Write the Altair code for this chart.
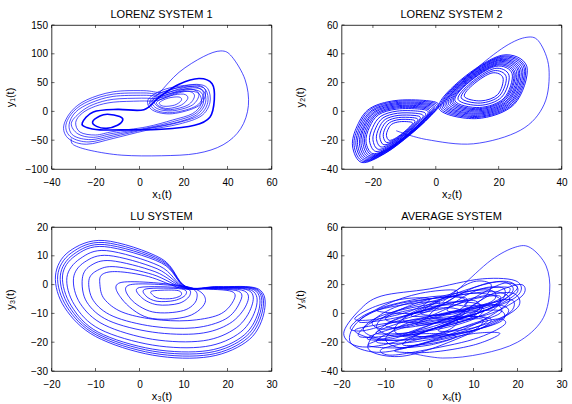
import altair as alt
import pandas as pd

BLUE = "#0000ff"
FONT = "Liberation Sans"
W, H = 220, 144

# ---------------- LORENZ SYSTEM 1 ----------------
# wide loops that run around both wings (x, y) in drawing order
LZ1_WIDE_LOOPS = [
    [(-34.5, -27), (-31, 0), (-24, 20), (-12, 34), (2, 36), (10, 33), (18, 42), (26, 47), (31, 40), (32, 15),
     (28, -8), (18, -22), (3, -33), (-12, -47), (-24, -57), (-32, -48)],
    [(-33.5, -25), (-30, 0), (-23, 18), (-12, 30), (2, 32), (10, 30), (18, 39), (25, 44), (30, 38), (31, 15),
     (27, -7), (17, -20), (3, -31), (-12, -44), (-23, -53), (-31, -45)],
    [(-32, -23), (-29, -1), (-22, 15), (-12, 26), (2, 28), (10, 27), (18, 36), (24, 41), (29, 36), (30, 15),
     (26, -6), (17, -19), (3, -30), (-12, -41), (-22, -49), (-30, -42)],
    [(-31, -21), (-27, -2), (-21, 12), (-12, 21), (1, 23), (9, 23), (17, 33), (23, 38), (28, 33), (29, 14),
     (25, -5), (16, -17), (3, -29), (-12, -38), (-21, -45), (-28, -39)],
    [(-29, -19), (-26, -3), (-20, 9), (-12, 16), (0, 18), (8, 19), (16, 30), (22, 35), (27, 31), (28, 13),
     (24, -4), (15, -15), (3, -27), (-12, -35), (-20, -41), (-27, -36)],
]
# nested loops of the right wing
LZ1_RIGHT_LOOPS = [
    [(4, 21), (12, 39), (25, 46), (30, 36), (27, 10), (15, -4), (6, 2)],
    [(5, 20), (13, 37), (24, 43), (29, 33), (26, 10), (15, -2), (7, 3)],
    [(6, 19), (14, 34), (23, 39), (27, 30), (24, 11), (15, 1), (8, 5)],
    [(7, 18), (14, 31), (22, 35), (25, 27), (22, 11), (14, 3), (9, 7)],
    [(8, 17), (14, 27), (20, 30), (22, 23), (19, 11), (13, 5), (9, 9)],
    [(9, 15), (13, 23), (18, 25), (19, 19), (16, 11), (11, 9)],
]
# heavily retraced orbit and its small left loop
LZ1_CORE = [
    [(-26, -20), (-21, -1), (-10, 3.5), (2, 3), (9, 25), (18, 47), (27, 57), (33, 48), (34, 20),
     (32, -10), (25, -24), (10, -31), (-5, -32), (-18, -32), (-24, -28)],
    [(-21.3, -17.8), (-18, -8), (-14.5, -5), (-9, -9), (-7.6, -15), (-10, -24), (-15, -29.4), (-19.5, -26)],
]
# single wide excursion
LZ1_EXCURSION = [
    [(-31, -47), (-30, -58), (-22, -68), (-8, -76), (10, -77), (26, -73), (38, -58), (46, -30),
     (49.5, 10), (48, 55), (42, 95), (37, 105), (29, 95), (18, 68), (9, 32), (4, 12)],
]
LZ1_X_TICKS = [-40, -20, 0, 20, 40, 60]
LZ1_Y_TICKS = [-100, -50, 0, 50, 100, 150]

# ---------------- LORENZ SYSTEM 2 ----------------
LZ2_LEFT_LOOPS = [
    [(-23.5, -35.5), (-26.5, -24), (-25, -10), (-21, 2), (-13, 7.5), (-3, 7.5), (1, 4.5), (-2, -4), (-8, -16), (-16, -29)],
    [(-23.1, -34.7), (-26.0, -23.6), (-24.5, -10.1), (-20.7, 1.5), (-12.9, 6.8), (-3.3, 6.8), (0.6, 3.9), (-2.3, -4.3), (-8.1, -15.9), (-15.8, -28.5)],
    [(-22.6, -34.0), (-25.4, -23.3), (-24.0, -10.2), (-20.3, 0.9), (-12.9, 6.0), (-3.6, 6.0), (0.2, 3.2), (-2.6, -4.7), (-8.2, -15.8), (-15.7, -27.9)],
    [(-22.2, -33.2), (-24.9, -22.9), (-23.5, -10.4), (-20.0, 0.4), (-12.8, 5.3), (-3.8, 5.3), (-0.3, 2.6), (-2.9, -5.0), (-8.3, -15.7), (-15.5, -27.4)],
    [(-21.8, -32.4), (-24.3, -22.5), (-23.0, -10.5), (-19.6, -0.2), (-12.7, 4.6), (-4.1, 4.6), (-0.7, 2.0), (-3.3, -5.3), (-8.4, -15.7), (-15.3, -26.8)],
    [(-21.3, -31.7), (-23.8, -22.2), (-22.6, -10.6), (-19.3, -0.7), (-12.7, 3.8), (-4.4, 3.8), (-1.1, 1.4), (-3.6, -5.7), (-8.5, -15.6), (-15.1, -26.3)],
    [(-20.9, -30.9), (-23.2, -21.8), (-22.1, -10.7), (-18.9, -1.3), (-12.6, 3.1), (-4.7, 3.1), (-1.5, 0.7), (-3.9, -6.0), (-8.6, -15.5), (-15.0, -25.8)],
    [(-20.4, -30.1), (-22.7, -21.4), (-21.6, -10.9), (-18.6, -1.8), (-12.5, 2.4), (-5.0, 2.4), (-1.9, 0.1), (-4.2, -6.3), (-8.7, -15.4), (-14.8, -25.2)],
    [(-20.0, -29.3), (-22.2, -21.1), (-21.1, -11.0), (-18.2, -2.3), (-12.4, 1.6), (-5.2, 1.6), (-2.4, -0.5), (-4.5, -6.7), (-8.8, -15.3), (-14.6, -24.7)],
    [(-19.1, -27.8), (-21.1, -20.3), (-20.1, -11.2), (-17.5, -3.4), (-12.3, 0.2), (-5.8, 0.2), (-3.2, -1.8), (-5.2, -7.3), (-9.1, -15.1), (-14.3, -23.6)],
    [(-18.3, -26.3), (-20.0, -19.6), (-19.1, -11.5), (-16.8, -4.5), (-12.2, -1.3), (-6.4, -1.3), (-4.0, -3.1), (-5.8, -8.0), (-9.3, -15.0), (-13.9, -22.5)],
    [(-17.4, -24.7), (-18.9, -18.9), (-18.1, -11.7), (-16.1, -5.6), (-12.0, -2.8), (-6.9, -2.8), (-4.9, -4.3), (-6.4, -8.7), (-9.5, -14.8), (-13.6, -21.4)],
    [(-16.5, -23.2), (-17.8, -18.1), (-17.2, -12.0), (-15.4, -6.7), (-11.9, -4.3), (-7.5, -4.3), (-5.7, -5.6), (-7.0, -9.3), (-9.7, -14.6), (-13.2, -20.3)],
    [(-15.6, -21.6), (-16.7, -17.4), (-16.2, -12.2), (-14.7, -7.8), (-11.7, -5.7), (-8.0, -5.7), (-6.6, -6.8), (-7.7, -10.0), (-9.9, -14.4), (-12.9, -19.2)],
    [(-14.8, -20.1), (-15.7, -16.7), (-15.2, -12.5), (-14.0, -8.9), (-11.6, -7.2), (-8.6, -7.2), (-7.4, -8.1), (-8.3, -10.7), (-10.1, -14.3), (-12.5, -18.2)],
]
LZ2_RIGHT_LOOPS = [
    [(1, 2), (8, 22), (21, 39), (29, 31), (25, 5), (13, -5)],
    [(1.5, 2.5), (8.3, 21.8), (20.8, 38.2), (28.5, 30.5), (24.7, 5.4), (13.1, -4.2)],
    [(2.0, 3.1), (8.5, 21.7), (20.6, 37.5), (28.1, 30.0), (24.3, 5.8), (13.2, -3.5)],
    [(2.5, 3.6), (8.8, 21.5), (20.4, 36.7), (27.6, 29.5), (24.0, 6.3), (13.3, -2.7)],
    [(3.0, 4.1), (9.1, 21.3), (20.2, 35.9), (27.1, 29.0), (23.7, 6.7), (13.4, -1.9)],
    [(3.5, 4.6), (9.3, 21.1), (20.0, 35.2), (26.6, 28.6), (23.3, 7.1), (13.4, -1.2)],
    [(4.0, 5.2), (9.6, 21.0), (19.9, 34.4), (26.2, 28.1), (23.0, 7.5), (13.5, -0.4)],
    [(4.6, 5.7), (9.8, 20.8), (19.7, 33.6), (25.7, 27.6), (22.7, 7.9), (13.6, 0.4)],
    [(5.1, 6.2), (10.1, 20.6), (19.5, 32.8), (25.2, 27.1), (22.3, 8.4), (13.7, 1.2)],
    [(5.6, 6.7), (10.4, 20.4), (19.3, 32.1), (24.8, 26.6), (22.0, 8.8), (13.8, 1.9)],
    [(6.1, 7.3), (10.6, 20.3), (19.1, 31.3), (24.3, 26.1), (21.7, 9.2), (13.9, 2.7)],
    [(7.1, 8.3), (11.2, 19.9), (18.7, 29.8), (23.3, 25.1), (21.0, 10.0), (14.1, 4.2)],
    [(8.1, 9.4), (11.7, 19.6), (18.3, 28.2), (22.4, 24.1), (20.3, 10.9), (14.2, 5.8)],
    [(9.1, 10.4), (12.2, 19.2), (17.9, 26.7), (21.4, 23.2), (19.7, 11.7), (14.4, 7.3)],
]
LZ2_EXCURSION = [
    [(-12.6, -13.4), (-3, -19.5), (12, -22.5), (27, -13), (34.5, 5), (36, 30), (33, 48),
     (29, 51.5), (22, 45), (12, 28), (4, 10), (1, 3)],
]
LZ2_X_TICKS = [-20, 0, 20, 40]
LZ2_Y_TICKS = [-40, -20, 0, 20, 40, 60]

# ---------------- LU SYSTEM ----------------
LU_OUTER_LOOPS = [
    [(10.5, -0.6), (5, 9), (-8, 15.3), (-16, 11.5), (-19.1, 3), (-17, -8), (-10, -18), (3, -24.5), (16, -25), (25, -19), (28.4, -9), (27, -1.5), (18, -0.7)],
    [(10.5, -0.7), (5, 8.5), (-8, 14.6), (-15.5, 11), (-18.6, 3), (-16.5, -7.8), (-9.8, -17.5), (3, -23.8), (16, -24.3), (24.6, -18.5), (28, -8.8), (26.7, -1.6), (18, -0.8)],
    [(10.5, -0.8), (5, 8), (-8, 13.9), (-15, 10.5), (-18, 3), (-16, -7.6), (-9.6, -17), (3, -23.1), (15.8, -23.6), (24.2, -18), (27.6, -8.6), (26.4, -1.7), (18, -0.9)],
    [(10.5, -0.9), (5, 7.5), (-8, 13.2), (-14.6, 10), (-17.5, 3), (-15.5, -7.4), (-9.4, -16.5), (3, -22.4), (15.6, -22.9), (23.8, -17.5), (27.2, -8.4), (26, -1.8), (18, -1)],
    [(10.4, -1), (4.5, 6.5), (-7.5, 11.8), (-13.5, 9), (-16.5, 2.5), (-14.8, -7), (-9, -15.5), (3, -21), (15, -21.5), (23, -16.5), (26.5, -8), (25.5, -2), (18, -1.1)],
    [(10.3, -1), (4, 5.5), (-7, 10.1), (-12.5, 7.8), (-15, 2.2), (-13.5, -6.5), (-8, -14), (3, -19), (14.5, -19.5), (22, -15), (25.5, -7.5), (24.8, -2), (17, -1.2)],
    [(10.2, -1.1), (3.5, 4.5), (-6.5, 8.3), (-11.2, 6.5), (-13, 2), (-12, -6), (-7, -12.5), (3, -16.5), (13.5, -17), (20.5, -13.5), (24.3, -7), (23.8, -2.2), (16, -1.3)],
    [(10, -1.2), (3, 3.5), (-5.5, 6.2), (-9.5, 5), (-11.5, 1.5), (-10.5, -5.5), (-6, -11), (3, -14.5), (12.5, -15), (19.5, -12), (22.7, -6.5), (22.5, -2.3), (15, -1.4)],
    [(9.5, -1.3), (2, 2.8), (-5, 4.5), (-8.5, 3.5), (-9, 0), (-8, -5), (-4, -9.5), (3, -12), (11, -12.5), (18, -10.5), (21.2, -6), (21, -2.4), (14, -1.5)],
]
LU_INNER_LOOPS = [
    [(-4, 0.8), (11, -0.8), (15, -5.5), (11, -11), (2, -11.5), (-4, -5)],
    [(-2, 0), (11, -1), (13, -5), (10, -9), (3, -9.5), (-2, -5)],
    [(0, -1), (10, -1.2), (11.5, -3.5), (9, -6.5), (4, -7), (0.5, -4.5)],
    [(1.5, -1.5), (9.5, -1.5), (10.5, -3.5), (8, -5.5), (4, -5.8), (1.5, -4)],
    [(3, -2.2), (8.5, -2), (9.5, -3.6), (7.5, -4.8), (4.5, -4.8), (3, -3.6)],
]
LU_X_TICKS = [-20, -10, 0, 10, 20, 30]
LU_Y_TICKS = [-30, -20, -10, 0, 10, 20]

# ---------------- AVERAGE SYSTEM ----------------
AVG_LOOPS = [
    [(-19.5, -14), (-16, 2), (-11, 12), (0, 17), (12, 24), (20, 22), (19, 10), (5, -6), (-8, -20), (-16, -23)],
    [(-18, -20), (-16, -5), (-8, 6), (5, 12), (15, 15), (18, 8), (10, -8), (-3, -22), (-12, -27)],
    [(-14, -24), (-10, -8), (0, 3), (12, 12), (19, 14), (20, 4), (12, -10), (0, -25), (-8, -30)],
    [(-12, -10), (-9, 0), (0, 8), (10, 14), (16, 10), (13, 0), (2, -10), (-7, -16)],
    [(-15, -12), (-12, -3), (-4, 4), (6, 8), (12, 5), (8, -5), (-3, -13), (-10, -18)],
    [(-10, -18), (-6, -8), (3, 0), (14, 6), (18, 2), (14, -8), (2, -18), (-6, -24)],
    [(-6, -5), (-1, 5), (8, 16), (16, 22), (19, 16), (14, 4), (4, -6)],
    [(0, -2), (5, 10), (12, 20), (18, 22), (20, 15), (15, 5), (7, -3)],
    [(-8, -12), (-5, -2), (3, 6), (10, 9), (11, 2), (4, -7), (-4, -15)],
    [(-13, -6), (-8, 4), (0, 10), (8, 11), (7, 3), (-2, -6), (-10, -11)],
    [(-17, -12), (-12, -8), (-2, -4), (8, -2), (14, -4), (10, -12), (-3, -18), (-12, -18)],
    [(-11, -25), (-5, -20), (5, -12), (15, -4), (17, -8), (10, -18), (-2, -26), (-9, -29)],
    [(-4, -14), (2, -6), (9, 2), (15, 6), (16, 0), (9, -8), (1, -16)],
    [(4, 2), (8, 12), (13, 18), (17, 17), (16, 8), (10, 2)],
    [(-14, -18), (-10, -12), (-2, -6), (6, -4), (4, -12), (-5, -18)],
    [(-6, -22), (-2, -14), (6, -6), (12, -4), (10, -12), (2, -20)],
    [(-12, 2), (-6, 8), (2, 12), (8, 10), (4, 4), (-4, 0)],
    [(2, -12), (8, -2), (15, 8), (19, 9), (18, 0), (10, -10)],
    [(-2, 0), (4, 12), (10, 22), (14, 20), (12, 10), (6, 0)],
    [(-16, -16), (-13, -6), (-5, 2), (5, 6), (9, 2), (2, -8), (-8, -15)],
    [(-12, -20), (-8, -12), (0, -6), (10, -2), (13, -6), (6, -14), (-4, -20)],
    [(-18, -10), (-14, 0), (-6, 6), (2, 8), (0, 2), (-8, -6), (-15, -12)],
    [(-10, -4), (-4, 6), (6, 14), (14, 16), (14, 8), (4, 0), (-4, -6)],
    [(-6, -16), (0, -8), (8, 0), (16, 2), (16, -6), (6, -14)],
    [(-14, -22), (-8, -16), (0, -14), (6, -16), (0, -22), (-8, -24)],
    [(-4, -2), (2, 8), (10, 16), (18, 18), (16, 10), (8, 2)],
    [(6, -4), (10, 6), (16, 16), (21, 20), (21, 12), (14, 0)],
    [(-16, -6), (-10, 6), (-2, 14), (6, 16), (4, 8), (-6, -2)],
    [(-8, -26), (0, -20), (10, -14), (16, -14), (10, -22), (0, -27)],
    [(-12, -14), (-6, -6), (4, 0), (12, 4), (10, -4), (0, -12)],
    [(-3, -8), (3, 2), (10, 10), (16, 12), (14, 4), (6, -4)],
    [(8, 6), (12, 14), (17, 21), (20, 18), (17, 10), (12, 6)],
    [(-17, -4), (-13, 4), (-6, 10), (0, 10), (-4, 2), (-12, -4)],
    [(-10, -8), (-4, 0), (4, 4), (8, 0), (2, -6), (-6, -10)],
]
AVG_EXCURSION = [
    [(-5, -27), (3, -31), (12, -28), (20, -20), (25.5, -5), (27.3, 15), (26.5, 33), (23, 45.5),
     (19.5, 46), (14, 37), (7, 18), (3, 8)],
]
AVG_X_TICKS = [-20, -10, 0, 10, 20, 30]
AVG_Y_TICKS = [-40, -20, 0, 20, 40, 60]


def to_frame(paths):
    rows = []
    for k, pts in enumerate(paths):
        for i, (x, y) in enumerate(pts):
            rows.append({"g": k, "i": i, "x": x, "y": y})
    return pd.DataFrame(rows)


def panel(title, xdom, ydom, xticks, yticks, xtitle, ytitle, closed, thick=None, open_paths=None, width=0.7):
    xs = alt.Scale(domain=xdom, nice=False, zero=False)
    ys = alt.Scale(domain=ydom, nice=False, zero=False)
    xaxis = alt.Axis(values=xticks, title=xtitle, titleX=W / 2, titleY=25, titleBaseline="middle",
                     titleAlign="center", labelPadding=13, labelBaseline="middle")
    yaxis = alt.Axis(values=yticks, title=ytitle, titleX=-41, titleY=H / 2, titleBaseline="middle",
                     titleAlign="center", titleAngle=270, labelPadding=4)
    xenc = alt.X("x:Q", scale=xs, axis=xaxis)
    yenc = alt.Y("y:Q", scale=ys, axis=yaxis)

    def lines(paths, interp, sw):
        return alt.Chart(to_frame(paths)).mark_line(
            interpolate=interp, color=BLUE, strokeWidth=sw, clip=True
        ).encode(x=xenc, y=yenc, detail="g:N", order="i:Q")

    layers = [lines(closed, "cardinal-closed", width)]
    if thick:
        layers.append(lines(thick, "cardinal-closed", 1.6))
    if open_paths:
        layers.append(lines(open_paths, "cardinal", 0.7))

    # short inward tick marks on all four sides of the box
    xt = pd.DataFrame({"x": xticks})
    yt = pd.DataFrame({"y": yticks})
    tick = dict(color="black", strokeWidth=0.6)
    layers += [
        alt.Chart(xt).mark_rule(**tick).encode(x=xenc, y=alt.value(H), y2=alt.value(H - 3)),
        alt.Chart(xt).mark_rule(**tick).encode(x=xenc, y=alt.value(0), y2=alt.value(3)),
        alt.Chart(yt).mark_rule(**tick).encode(y=yenc, x=alt.value(0), x2=alt.value(3)),
        alt.Chart(yt).mark_rule(**tick).encode(y=yenc, x=alt.value(W), x2=alt.value(W - 3)),
    ]
    return alt.layer(*layers).properties(
        width=W, height=H,
        title=alt.TitleParams(title, font=FONT, fontSize=11, fontWeight="normal", color="black",
                              baseline="middle", offset=-6, anchor="middle", frame="group"),
    )


p1 = panel("LORENZ SYSTEM 1", [-40, 60], [-100, 150], LZ1_X_TICKS, LZ1_Y_TICKS, "x\u2081(t)", "y\u2081(t)",
           LZ1_WIDE_LOOPS + LZ1_RIGHT_LOOPS, thick=LZ1_CORE, open_paths=LZ1_EXCURSION)
p2 = panel("LORENZ SYSTEM 2", [-30, 40], [-40, 60], LZ2_X_TICKS, LZ2_Y_TICKS, "x\u2082(t)", "y\u2082(t)",
           LZ2_LEFT_LOOPS + LZ2_RIGHT_LOOPS, open_paths=LZ2_EXCURSION, width=0.9)
p3 = panel("LU SYSTEM", [-20, 30], [-30, 20], LU_X_TICKS, LU_Y_TICKS, "x\u2083(t)", "y\u2083(t)",
           LU_OUTER_LOOPS + LU_INNER_LOOPS, width=0.8)
p4 = panel("AVERAGE SYSTEM", [-20, 30], [-40, 60], AVG_X_TICKS, AVG_Y_TICKS, "x\u209b(t)", "y\u209b(t)",
           AVG_LOOPS, open_paths=AVG_EXCURSION, width=0.8)

chart = alt.concat(
    p1, p2, p3, p4, columns=2, spacing={"row": 58, "column": 70}, bounds="flush",
).properties(
    padding={"left": 3.5, "top": 8, "right": 0, "bottom": 0}, background="white",
).configure_view(
    stroke="black", strokeWidth=0.8,
).configure_axis(
    domain=False, ticks=False, grid=False, labelFont=FONT, labelFontSize=10, labelColor="black",
    titleFont=FONT, titleFontSize=11, titleFontWeight="normal", titleColor="black",
    labelFlush=False, labelOverlap=False,
)

chart.save("out.html", embed_options={"renderer": "svg", "actions": False})
